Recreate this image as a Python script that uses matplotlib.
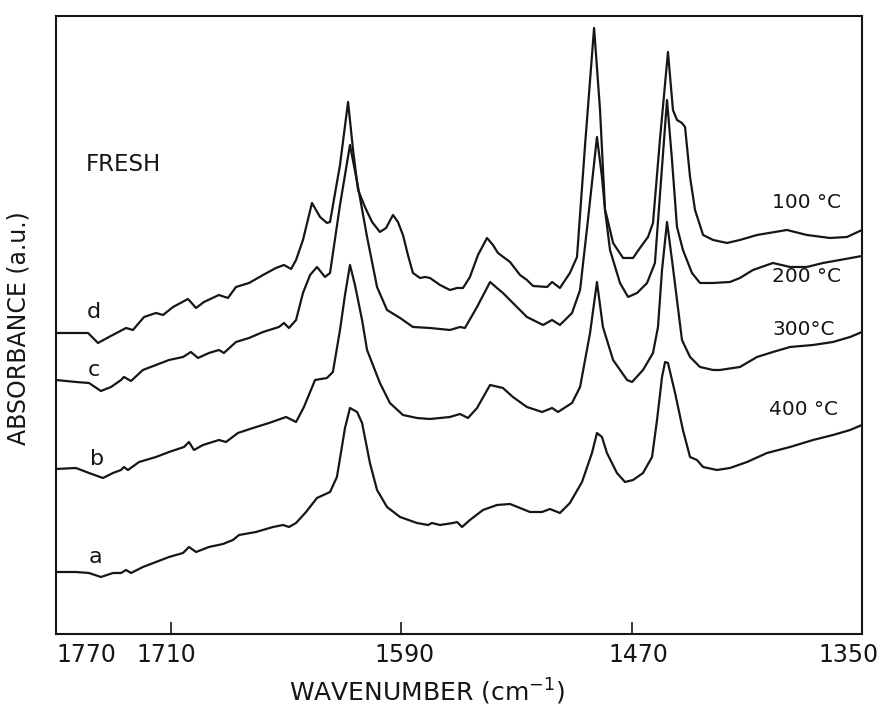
import matplotlib
matplotlib.use("Agg")
import matplotlib.pyplot as plt

plt.rcParams['font.family'] = ['DejaVu Sans']

# Spectrum d (top trace)
wn_d = [1770.0, 1759.6, 1753.3, 1748.1, 1742.4, 1733.5, 1729.9, 1724.1, 1717.9, 1714.2,
        1709.0, 1701.2, 1697.0, 1692.9, 1685.1, 1680.4, 1676.2, 1669.4, 1662.1, 1655.4,
        1651.2, 1647.5, 1644.9, 1641.3, 1636.6, 1632.4, 1628.8, 1627.2, 1622.0, 1617.8,
        1615.2, 1612.6, 1609.0, 1605.3, 1601.2, 1598.0, 1594.4, 1591.8, 1589.2, 1586.6,
        1584.0, 1580.3, 1577.7, 1575.1, 1569.9, 1564.7, 1561.0, 1557.9, 1554.3, 1550.1,
        1545.4, 1542.3, 1539.7, 1533.4, 1528.2, 1524.6, 1521.4, 1514.1, 1511.5, 1507.4,
        1502.2, 1498.5, 1494.3, 1489.6, 1486.5, 1483.9, 1482.9, 1479.7, 1474.5, 1469.3,
        1465.7, 1461.5, 1458.9, 1455.3, 1451.1, 1448.5, 1446.4, 1443.8, 1442.2, 1439.6,
        1437.0, 1432.8, 1427.6, 1420.3, 1413.6, 1404.7, 1389.1, 1378.7, 1366.7, 1357.8,
        1350.0]
abs_d = [3.01, 3.01, 3.01, 2.91, 2.97, 3.06, 3.04, 3.17, 3.21, 3.19,
         3.27, 3.35, 3.26, 3.32, 3.39, 3.36, 3.47, 3.51, 3.59, 3.66,
         3.69, 3.65, 3.74, 3.94, 4.31, 4.17, 4.11, 4.12, 4.69, 5.32,
         4.84, 4.44, 4.27, 4.12, 4.02, 4.06, 4.19, 4.12, 3.99, 3.79,
         3.61, 3.56, 3.57, 3.56, 3.49, 3.44, 3.46, 3.46, 3.57, 3.79,
         3.96, 3.89, 3.81, 3.72, 3.59, 3.54, 3.48, 3.47, 3.52, 3.46,
         3.61, 3.77, 4.89, 6.06, 5.24, 4.24, 4.17, 3.91, 3.76, 3.76,
         3.86, 3.97, 4.11, 4.94, 5.82, 5.24, 5.14, 5.11, 5.07, 4.57,
         4.24, 3.99, 3.94, 3.91, 3.94, 3.99, 4.04, 3.99, 3.96, 3.97,
         4.04]

# Spectrum c
wn_c = [1770.0, 1759.6, 1752.8, 1746.6, 1741.3, 1736.1, 1734.6, 1730.9, 1724.7, 1717.9,
        1711.1, 1703.8, 1699.7, 1696.0, 1690.3, 1685.1, 1682.5, 1676.2, 1669.4, 1662.1,
        1653.8, 1651.2, 1648.6, 1644.9, 1641.3, 1637.6, 1634.0, 1629.8, 1627.2, 1622.0,
        1616.8, 1612.6, 1607.9, 1602.7, 1597.5, 1590.7, 1584.0, 1575.1, 1564.7, 1559.5,
        1556.9, 1550.6, 1543.8, 1540.2, 1537.1, 1531.9, 1524.6, 1516.2, 1511.5, 1507.4,
        1501.1, 1496.9, 1492.8, 1488.1, 1485.5, 1483.9, 1481.3, 1476.1, 1471.9, 1467.2,
        1462.0, 1457.9, 1454.7, 1451.6, 1449.0, 1446.4, 1443.3, 1438.6, 1434.4, 1427.6,
        1418.8, 1413.6, 1406.8, 1396.4, 1387.5, 1378.7, 1370.3, 1361.5, 1350.0]
abs_c = [2.54, 2.52, 2.51, 2.43, 2.47, 2.54, 2.57, 2.53, 2.64, 2.69,
         2.74, 2.77, 2.82, 2.76, 2.81, 2.84, 2.81, 2.92, 2.96, 3.02,
         3.07, 3.11, 3.06, 3.14, 3.41, 3.59, 3.67, 3.57, 3.61, 4.29,
         4.89, 4.47, 3.97, 3.47, 3.24, 3.16, 3.07, 3.06, 3.04, 3.07,
         3.06, 3.27, 3.52, 3.46, 3.41, 3.31, 3.17, 3.09, 3.14, 3.09,
         3.21, 3.44, 4.14, 4.97, 4.57, 4.24, 3.84, 3.51, 3.37, 3.41,
         3.51, 3.71, 4.54, 5.34, 4.74, 4.07, 3.84, 3.61, 3.51, 3.51,
         3.52, 3.56, 3.64, 3.71, 3.67, 3.67, 3.71, 3.74, 3.78]

# Spectrum b
wn_b = [1770.0, 1759.6, 1752.8, 1745.5, 1740.3, 1736.1, 1734.6, 1732.5, 1726.7, 1717.9,
        1711.1, 1703.3, 1700.7, 1698.1, 1693.4, 1685.1, 1681.4, 1675.2, 1667.3, 1659.0,
        1650.1, 1644.9, 1640.8, 1635.0, 1628.8, 1625.7, 1622.0, 1619.4, 1616.8, 1614.2,
        1610.5, 1607.9, 1601.2, 1596.0, 1589.2, 1581.9, 1575.1, 1564.7, 1559.5, 1555.3,
        1550.6, 1543.8, 1537.1, 1531.9, 1524.6, 1516.7, 1511.5, 1508.4, 1501.1, 1496.9,
        1491.7, 1488.1, 1485.0, 1479.7, 1472.4, 1469.8, 1464.1, 1458.9, 1456.3, 1454.2,
        1451.6, 1449.0, 1446.4, 1443.8, 1439.6, 1434.4, 1427.6, 1424.0, 1413.6, 1404.7,
        1396.4, 1387.5, 1375.5, 1365.1, 1356.2, 1350.0]
abs_b = [1.65, 1.66, 1.61, 1.56, 1.61, 1.64, 1.67, 1.64, 1.72, 1.77,
         1.82, 1.87, 1.92, 1.84, 1.89, 1.94, 1.92, 2.01, 2.06, 2.11,
         2.17, 2.12, 2.27, 2.54, 2.56, 2.62, 3.04, 3.39, 3.69, 3.49,
         3.14, 2.84, 2.51, 2.31, 2.19, 2.16, 2.15, 2.17, 2.20, 2.16,
         2.26, 2.49, 2.46, 2.37, 2.27, 2.22, 2.26, 2.22, 2.31, 2.47,
         3.01, 3.52, 3.07, 2.74, 2.54, 2.52, 2.64, 2.81, 3.07, 3.64,
         4.12, 3.74, 3.34, 2.94, 2.77, 2.67, 2.64, 2.64, 2.67, 2.77,
         2.82, 2.87, 2.89, 2.92, 2.97, 3.02]

# Spectrum a (bottom trace)
wn_a = [1770.0, 1759.6, 1752.8, 1746.6, 1740.3, 1736.1, 1733.5, 1730.9, 1724.7, 1717.9,
        1711.1, 1703.8, 1700.7, 1697.0, 1690.3, 1683.0, 1677.8, 1674.6, 1665.8, 1656.9,
        1651.7, 1648.6, 1644.9, 1639.7, 1634.0, 1627.2, 1623.6, 1619.4, 1616.8, 1613.1,
        1610.5, 1606.4, 1602.7, 1597.5, 1590.7, 1581.9, 1576.1, 1574.1, 1569.9, 1563.1,
        1561.0, 1558.4, 1554.3, 1547.5, 1540.2, 1533.4, 1523.0, 1516.7, 1512.6, 1507.4,
        1502.2, 1495.9, 1490.7, 1488.1, 1485.5, 1482.9, 1477.7, 1473.5, 1469.3, 1464.1,
        1459.4, 1456.8, 1454.2, 1452.6, 1451.1, 1447.4, 1443.3, 1439.6, 1436.0, 1432.8,
        1425.6, 1418.8, 1409.9, 1399.5, 1387.5, 1375.5, 1365.1, 1356.2, 1350.0]
abs_a = [0.62, 0.62, 0.61, 0.57, 0.61, 0.61, 0.64, 0.61, 0.67, 0.72,
         0.77, 0.81, 0.87, 0.82, 0.87, 0.90, 0.94, 0.99, 1.02, 1.07,
         1.09, 1.07, 1.11, 1.22, 1.36, 1.42, 1.57, 2.06, 2.26, 2.22,
         2.11, 1.71, 1.44, 1.27, 1.17, 1.11, 1.09, 1.11, 1.09, 1.11,
         1.12, 1.07, 1.14, 1.24, 1.29, 1.30, 1.22, 1.22, 1.25, 1.21,
         1.31, 1.52, 1.81, 2.01, 1.97, 1.81, 1.61, 1.52, 1.54, 1.61,
         1.77, 2.14, 2.57, 2.72, 2.71, 2.41, 2.04, 1.77, 1.74, 1.67,
         1.64, 1.66, 1.72, 1.81, 1.87, 1.94, 1.99, 2.04, 2.09]

tick_values = [1770, 1710, 1590, 1470, 1350]
tick_labels = ["1770", "1710", "1590", "1470", "1350"]

curve_names = ["d", "c", "b", "a"]
curve_name_pos = [(1750.2, 3.22), (1750.2, 2.64), (1748.6, 1.75), (1749.7, 0.77)]
temp_labels = ["100 °C", "200 °C", "300°C", "400 °C"]
temp_label_pos = [(1396.9, 4.31), (1396.9, 3.57), (1396.9, 3.04), (1398.5, 2.24)]

ink = "#161616"

fig = plt.figure(figsize=(8.83, 7.13), dpi=100)
ax = fig.add_axes([0.0634, 0.1108, 0.9128, 0.8668])

for wn, ab in [(wn_d, abs_d), (wn_c, abs_c), (wn_b, abs_b), (wn_a, abs_a)]:
    ax.plot(wn, ab, color=ink, lw=1.6, solid_joinstyle="round", solid_capstyle="round")

ax.set_xlim(1770, 1350)
ax.set_ylim(0, 6.18)

for sp in ax.spines.values():
    sp.set_linewidth(1.5)
    sp.set_color(ink)

ax.set_yticks([])
ax.set_xticks(tick_values[1:-1])
ax.set_xticklabels([])
ax.tick_params(axis="x", direction="in", length=9, width=1.2, color=ink)

# Tick numbers, nudged as lettered on the chart
px = 0.72
label_dx = [30, -5, 3, 7, -13]
xform = ax.get_xaxis_transform()
for v, lab, dx in zip(tick_values, tick_labels, label_dx):
    ax.annotate(lab, xy=(v, 0), xycoords=xform, xytext=(dx * px, -21 * px),
                textcoords="offset points", ha="center", va="center",
                fontsize=17, color=ink, annotation_clip=False)

fig.text(427 / 883, 21 / 713, "WAVENUMBER (cm$^{-1}$)", ha="center", va="center",
         fontsize=18, color=ink)
fig.text(19 / 883, 1 - 328 / 713, "ABSORBANCE (a.u.)", ha="center", va="center",
         rotation=90, fontsize=17, color=ink)

ax.text(1754.4, 4.69, "FRESH", ha="left", va="center", fontsize=16.5, color=ink)
for name, (x, y) in zip(curve_names, curve_name_pos):
    ax.text(x, y, name, ha="center", va="center", fontsize=16, color=ink)
for lab, (x, y) in zip(temp_labels, temp_label_pos):
    ax.text(x, y, lab, ha="left", va="center", fontsize=14.5, color=ink)

fig.savefig("out.png", dpi=100, facecolor="white")
